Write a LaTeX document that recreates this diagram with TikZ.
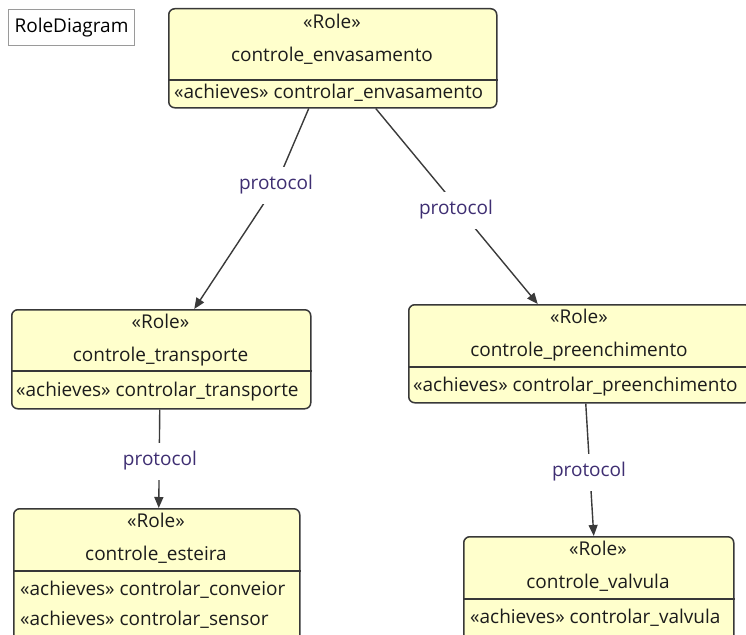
\documentclass[tikz,border=0pt]{standalone}
\usepackage{fontspec}
\setmainfont{Open Sans}
\usetikzlibrary{arrows.meta}
\pgfdeclarelayer{background}
\pgfsetlayers{background,main}
\definecolor{rolefill}{HTML}{FFFFCC}
\definecolor{roleline}{HTML}{383838}
\definecolor{roletext}{HTML}{1C1C1C}
\definecolor{protext}{HTML}{3E2E72}
\definecolor{connline}{HTML}{3A3A3A}
\definecolor{titleline}{HTML}{9A9A9A}
\tikzset{
  rolebox/.style={draw=roleline, fill=rolefill, line width=1.5pt, rounded corners=6pt, anchor=north west, inner sep=0pt},
  rolesep/.style={draw=roleline, line width=1.5pt},
  roletxt/.style={text=roletext, font=\fontsize{19}{22}\selectfont, inner sep=0pt, anchor=base},
  attrtxt/.style={roletxt, anchor=base west},
  conn/.style={draw=connline, line width=1.4pt},
  arr/.style={conn, -{Triangle[length=11pt,width=9pt]}},
  protolabel/.style={text=protext, font=\fontsize{19}{22}\selectfont, fill=white, inner xsep=2pt, inner ysep=10pt, text height=13pt, text depth=4pt},
  titlebox/.style={draw=titleline, line width=1pt, fill=white, anchor=north west, inner sep=0pt, font=\fontsize{19}{22}\selectfont, text=black}
}
\begin{document}
\begin{tikzpicture}[x=1pt, y=-1pt]
\useasboundingbox (0,0) rectangle (746,634);
\clip (0,0) rectangle (746,634);

% diagram title
\node[titlebox, minimum width=126pt, minimum height=36pt] (title) at (8,9) {RoleDiagram};

% role: controle_envasamento
\node[rolebox, minimum width=328pt, minimum height=99pt] (env) at (168,8) {};
\draw[rolesep] ([yshift=-72pt]env.north west) -- ([yshift=-72pt]env.north east);
\node[roletxt] (env-st) at (332,29) {«Role»};
\node[roletxt] (env-nm) at (332,62) {controle\_envasamento};
\node[attrtxt] (env-a1) at (174,98) {«achieves» controlar\_envasamento};

% role: controle_transporte
\node[rolebox, minimum width=299pt, minimum height=99pt] (transp) at (11,309) {};
\draw[rolesep] ([yshift=-62pt]transp.north west) -- ([yshift=-62pt]transp.north east);
\node[roletxt] (transp-st) at (160.5,328) {«Role»};
\node[roletxt] (transp-nm) at (160.5,361) {controle\_transporte};
\node[attrtxt] (transp-a1) at (16,396) {«achieves» controlar\_transporte};

% role: controle_preenchimento
\node[rolebox, minimum width=342pt, minimum height=98pt] (preench) at (408,304) {};
\draw[rolesep] ([yshift=-63pt]preench.north west) -- ([yshift=-63pt]preench.north east);
\node[roletxt] (preench-st) at (579,323) {«Role»};
\node[roletxt] (preench-nm) at (579,356) {controle\_preenchimento};
\node[attrtxt] (preench-a1) at (413,391) {«achieves» controlar\_preenchimento};

% role: controle_esteira
\node[rolebox, minimum width=286pt, minimum height=192pt] (esteira) at (13,508) {};
\draw[rolesep] ([yshift=-63pt]esteira.north west) -- ([yshift=-63pt]esteira.north east);
\node[roletxt] (esteira-st) at (156,527) {«Role»};
\node[roletxt] (esteira-nm) at (156,560) {controle\_esteira};
\node[attrtxt] (esteira-a1) at (20,595) {«achieves» controlar\_conveior};
\node[attrtxt] (esteira-a2) at (20,625) {«achieves» controlar\_sensor};

% role: controle_valvula
\node[rolebox, minimum width=270pt, minimum height=164pt] (valvula) at (463,536) {};
\draw[rolesep] ([yshift=-63pt]valvula.north west) -- ([yshift=-63pt]valvula.north east);
\node[roletxt] (valvula-st) at (598,555) {«Role»};
\node[roletxt] (valvula-nm) at (598,588) {controle\_valvula};
\node[attrtxt] (valvula-a1) at (470,623) {«achieves» controlar\_valvula};

% protocol labels
\node[protolabel] (lab1) at (276,185) {protocol};
\node[protolabel] (lab2) at (456,210) {protocol};
\node[protolabel] (lab3) at (160,461) {protocol};
\node[protolabel] (lab4) at (589,472) {protocol};

% connectors, behind the labels
\begin{pgfonlayer}{background}
\draw[arr] ([xshift=-24pt]env.south) -- (lab1.center) -- ([xshift=33pt]transp.north);
\draw[arr] ([xshift=43pt]env.south) -- ([xshift=-42pt]preench.north);
\draw[arr] ([xshift=-1.5pt]transp.south) -- ([xshift=2pt]esteira.north);
\draw[arr] ([xshift=6pt]preench.south) -- ([xshift=-5pt]valvula.north);
\end{pgfonlayer}
\end{tikzpicture}
\end{document}
